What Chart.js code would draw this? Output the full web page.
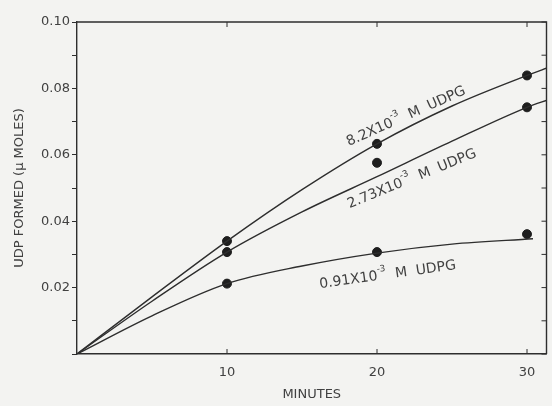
<!DOCTYPE html>
<html>
<head>
<meta charset="utf-8">
<script src="https://cdn.jsdelivr.net/npm/chart.js@4"></script>
<style>
    html, body { margin: 0; padding: 0; background: #f3f3f1; }
    #wrap { width: 552px; height: 406px; }
</style>
</head>
<body>
<div id="wrap"><canvas id="chart"></canvas></div>
<script>
/* UDP formed vs. time at three UDPG concentrations */

const INK = '#2e2e2e';
const TEXT = '#414141';
const FONT = '"DejaVu Sans", sans-serif';

// measured points
const minutes = [10, 20, 30];
const udpg82 = [0.0340, 0.0633, 0.0839];
const udpg273 = [0.0307, 0.0576, 0.0743];
const udpg091 = [0.0212, 0.0307, 0.0361];

// hand-drawn curves
const curveMinutes = [0, 5, 10, 15, 20, 25, 30, 31.5];
const curve82 = [0, 0.0172, 0.0340, 0.0495, 0.0633, 0.0747, 0.0839, 0.0864];
const curve273 = [0, 0.0159, 0.0307, 0.0428, 0.0534, 0.0641, 0.0743, 0.0767];
const curve091Minutes = [0, 5, 10, 15, 20, 25, 30.4];
const curve091 = [0, 0.0115, 0.0212, 0.0265, 0.0304, 0.0331, 0.0347];

// curve labels: mantissa, text after the exponent, centre (minutes, value), angle in degrees
const curveLabels = [
    { base: '8.2X10', exp: '-3', tail: '  M  UDPG', x: 21.9, y: 0.0719, angle: -24 },
    { base: '2.73X10', exp: '-3', tail: '  M  UDPG', x: 22.3, y: 0.0531, angle: -22 },
    { base: '0.91X10', exp: '-3', tail: '  M  UDPG', x: 20.7, y: 0.0242, angle: -8 },
];

const xTicks = [10, 20, 30];

const toXY = (xs, ys) => xs.map((x, i) => ({ x, y: ys[i] }));

const curve = (xs, ys) => ({
    type: 'line',
    data: toXY(xs, ys),
    borderColor: INK,
    borderWidth: 1.4,
    pointRadius: 0,
    cubicInterpolationMode: 'monotone',
    fill: false,
});

const dots = (ys) => ({
    type: 'scatter',
    data: toXY(minutes, ys),
    backgroundColor: '#1e1e1e',
    borderColor: '#1e1e1e',
    pointRadius: 4.5,
});

// frame on top/right plus inward ticks (bottom, right, top)
const framePlugin = {
    id: 'frame',
    afterDraw(c) {
        const { ctx, chartArea: a, scales } = c;
        ctx.save();
        ctx.strokeStyle = INK;
        ctx.lineWidth = 1.4;
        ctx.beginPath();
        ctx.moveTo(a.left, a.top);
        ctx.lineTo(a.right, a.top);
        ctx.lineTo(a.right, a.bottom);
        ctx.stroke();
        ctx.lineWidth = 1;
        ctx.beginPath();
        xTicks.forEach((v) => {
            const px = scales.x.getPixelForValue(v);
            ctx.moveTo(px, a.bottom);
            ctx.lineTo(px, a.bottom - 5);
            ctx.moveTo(px, a.top);
            ctx.lineTo(px, a.top + 5);
        });
        scales.y.ticks.forEach((t) => {
            const py = scales.y.getPixelForValue(t.value);
            ctx.moveTo(a.right, py);
            ctx.lineTo(a.right - 5, py);
        });
        ctx.stroke();
        ctx.restore();
    },
};

// rotated labels on the curves
const labelPlugin = {
    id: 'curveLabels',
    afterDatasetsDraw(c) {
        const { ctx, scales } = c;
        ctx.save();
        ctx.fillStyle = TEXT;
        ctx.textBaseline = 'alphabetic';
        curveLabels.forEach((l) => {
            const big = `14px ${FONT}`;
            const small = `9px ${FONT}`;
            ctx.font = big;
            const w1 = ctx.measureText(l.base).width;
            const w3 = ctx.measureText(l.tail).width;
            ctx.font = small;
            const w2 = ctx.measureText(l.exp).width;
            const total = w1 + w2 + w3;
            ctx.save();
            ctx.translate(scales.x.getPixelForValue(l.x), scales.y.getPixelForValue(l.y));
            ctx.rotate(l.angle * Math.PI / 180);
            let x = -total / 2;
            ctx.font = big;
            ctx.fillText(l.base, x, 5);
            x += w1;
            ctx.font = small;
            ctx.fillText(l.exp, x, -3);
            x += w2;
            ctx.font = big;
            ctx.fillText(l.tail, x, 5);
            ctx.restore();
        });
        ctx.restore();
    },
};

new Chart(document.getElementById('chart'), {
    data: {
        datasets: [
            curve(curveMinutes, curve82),
            curve(curveMinutes, curve273),
            curve(curve091Minutes, curve091),
            dots(udpg82),
            dots(udpg273),
            dots(udpg091),
        ],
    },
    options: {
        animation: false,
        responsive: true,
        maintainAspectRatio: false,
        layout: { padding: { top: 22, right: 2, left: 0, bottom: 0 } },
        plugins: { legend: { display: false }, tooltip: { enabled: false } },
        scales: {
            x: {
                type: 'linear',
                min: 0,
                max: 31.3,
                afterFit: (s) => { s.height = 52; },
                afterBuildTicks: (s) => { s.ticks = [0, ...xTicks].map((value) => ({ value })); },
                grid: { display: false },
                border: { color: INK, width: 1.4 },
                ticks: {
                    autoSkip: false,
                    maxRotation: 0,
                    color: TEXT,
                    font: { family: FONT, size: 13 },
                    padding: 3,
                    callback: (v) => (xTicks.includes(v) ? String(v) : ''),
                },
                title: {
                    display: true,
                    text: 'MINUTES',
                    color: TEXT,
                    font: { family: FONT, size: 13 },
                    padding: { top: 6 },
                },
            },
            y: {
                min: 0,
                max: 0.1,
                afterFit: (s) => { s.width = 77; },
                grid: { drawOnChartArea: false, drawTicks: true, tickLength: 5, color: INK },
                border: { color: INK, width: 1.4 },
                ticks: {
                    stepSize: 0.01,
                    color: TEXT,
                    font: { family: FONT, size: 13 },
                    padding: 2,
                    callback: (v) => {
                        const n = Math.round(v * 100);
                        return n > 0 && n % 2 === 0 ? (n / 100).toFixed(2) : '';
                    },
                },
                title: {
                    display: true,
                    text: 'UDP FORMED (\u03bc MOLES)',
                    color: TEXT,
                    font: { family: FONT, size: 13 },
                    padding: { top: 12, bottom: 6 },
                },
            },
        },
    },
    plugins: [framePlugin, labelPlugin],
});
</script>
</body>
</html>
